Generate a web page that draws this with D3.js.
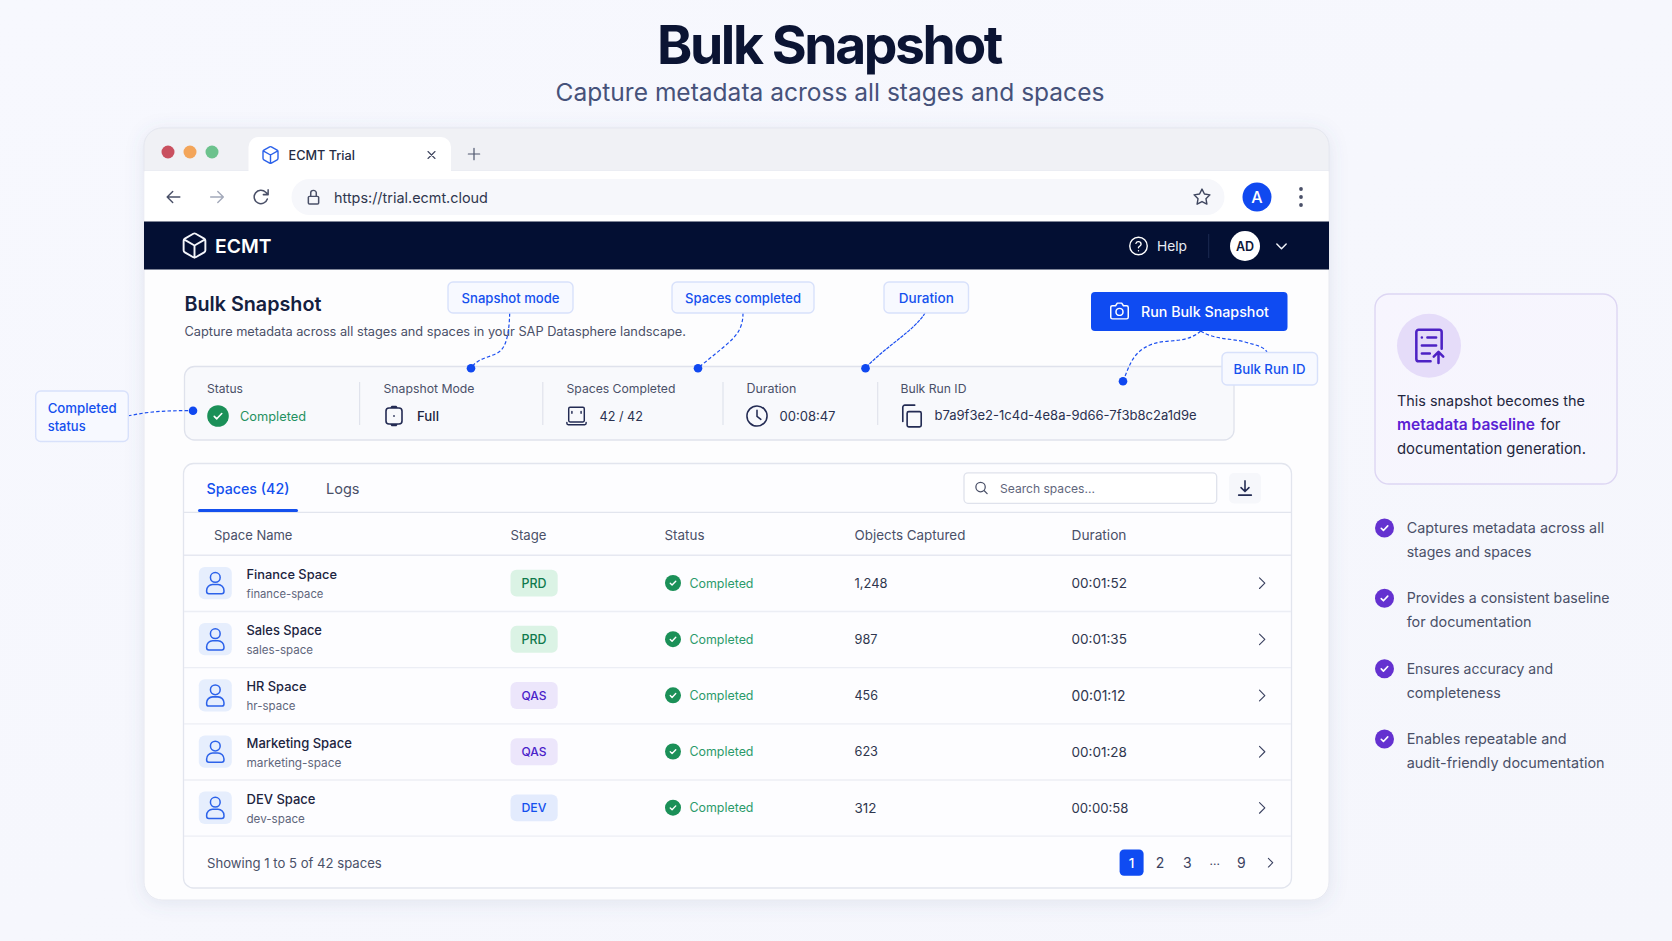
<!DOCTYPE html>
<html><head><meta charset="utf-8">
<script src="https://cdn.jsdelivr.net/npm/d3@7"></script>
<style>html,body{margin:0;padding:0;background:#f8f9fe;overflow:hidden}svg{display:block;font-family:Inter,"Noto Sans",sans-serif}</style>
</head><body><svg id="c" width="1672" height="941"></svg>
<script>
// ---- data ----
const rowNames = ["Finance Space","Sales Space","HR Space","Marketing Space","DEV Space"];
const rowSlugs = ["finance-space","sales-space","hr-space","marketing-space","dev-space"];
const rowStages = ["PRD","PRD","QAS","QAS","DEV"];
const rowObjects = ["1,248","987","456","623","312"];
const rowDurations = ["00:01:52","00:01:35","00:01:12","00:01:28","00:00:58"];
const rowStatus = ["Completed","Completed","Completed","Completed","Completed"];
const tableHeaders = ["Space Name","Stage","Status","Objects Captured","Duration"];
const statLabels = ["Status","Snapshot Mode","Spaces Completed","Duration","Bulk Run ID"];
const statValues = ["Completed","Full","42 / 42","00:08:47","b7a9f3e2-1c4d-4e8a-9d66-7f3b8c2a1d9e"];
const pageLabels = ["2","3","...","9"];
const bullets = [["Captures metadata across all","stages and spaces"],["Provides a consistent baseline","for documentation"],["Ensures accuracy and","completeness"],["Enables repeatable and","audit-friendly documentation"]];

const svg = d3.select("#c");
const defs = svg.append("defs");
const bg = defs.append("linearGradient").attr("id","bg").attr("x1",0).attr("y1",0).attr("x2",1).attr("y2",1);
bg.append("stop").attr("offset",0).attr("stop-color","#f7f8fe");
bg.append("stop").attr("offset",1).attr("stop-color","#f5f6fc");
const cg = defs.append("linearGradient").attr("id","card").attr("x1",0).attr("y1",0).attr("x2",1).attr("y2",1);
cg.append("stop").attr("offset",0).attr("stop-color","#f7f5fe");
cg.append("stop").attr("offset",1).attr("stop-color","#f6f6fd");
const sh = (id,dy,b,o,col)=>{const f=defs.append("filter").attr("id",id).attr("x","-10%").attr("y","-10%").attr("width","120%").attr("height","120%");
  f.append("feDropShadow").attr("dx",0).attr("dy",dy).attr("stdDeviation",b).attr("flood-color",col).attr("flood-opacity",o);};
sh("win",3,9,0.13,"#5a6796"); sh("soft",1,3,0.12,"#4f6ae0");

const T = (x,y,s,o={})=>{
  const n = (o.g||svg).append("text").attr("x",x).attr("y",y).attr("dy","0.36em").text(s)
    .attr("font-size",o.size||14).attr("font-weight",o.weight||400).attr("fill",o.fill||"#3f465f")
    .attr("text-anchor",o.anchor||"start");
  if(o.ls) n.attr("letter-spacing",o.ls);
  if(o.w){const l=n.node().getComputedTextLength(); n.attr("font-size",(o.size||14)*o.w/l);}
  return n;
};
const R = (x0,y0,x1,y1,o={})=> (o.g||svg).append("rect").attr("x",x0).attr("y",y0).attr("width",x1-x0).attr("height",y1-y0)
  .attr("rx",o.r||0).attr("fill",o.fill||"none").attr("stroke",o.stroke||"none").attr("stroke-width",o.sw||1).attr("filter",o.filter||null);
const L = (x0,y0,x1,y1,c,w=1)=> svg.append("line").attr("x1",x0).attr("y1",y0).attr("x2",x1).attr("y2",y1).attr("stroke",c).attr("stroke-width",w);
const circ = (cx,cy,r)=>`M${cx-r} ${cy}a${r} ${r} 0 1 0 ${2*r} 0a${r} ${r} 0 1 0 ${-2*r} 0z`;
const I = (cx,cy,size,d,c,sw=2,sy=1)=>{const k=size/24;
  svg.append("path").attr("d",d).attr("transform",`translate(${cx-12*k},${cy-12*k*sy}) scale(${k},${k*sy})`)
  .attr("fill","none").attr("stroke",c).attr("stroke-width",sw).attr("stroke-linecap","round").attr("stroke-linejoin","round");};
const ic = {
 box:"M21 16V8a2 2 0 0 0-1-1.73l-7-4a2 2 0 0 0-2 0l-7 4A2 2 0 0 0 3 8v8a2 2 0 0 0 1 1.73l7 4a2 2 0 0 0 2 0l7-4A2 2 0 0 0 21 16z M3.27 6.96 12 12.01l8.73-5.05 M12 22.08V12",
 left:"M20 12H4 M11 19l-7-7 7-7", right:"M4 12h16 M13 5l7 7-7 7",
 reload:"M21 3v6h-6 M20 14.5a8.5 8.5 0 1 1-2-8.5L21 9",
 lock:"M7 11h10a1.5 1.5 0 0 1 1.5 1.5v8a1.5 1.5 0 0 1-1.5 1.5H7a1.5 1.5 0 0 1-1.5-1.5v-8A1.5 1.5 0 0 1 7 11z M8.5 11V6a3.5 3.5 0 0 1 7 0v5",
 star:"M12 2l3.09 6.26L22 9.27l-5 4.87 1.18 6.88L12 17.77l-6.18 3.25L7 14.14 2 9.27l6.91-1.01L12 2z",
 help:circ(12,12,10)+" M9.09 9a3 3 0 0 1 5.83 1c0 2-3 2.5-3 4 M12 17.5h.01",
 cd:"M5 9l7 7 7-7", cr:"M9 4l8 8-8 8", x:"M5 5l14 14 M19 5L5 19", plus:"M12 4v16 M4 12h16",
 camera:"M22 19a2 2 0 0 1-2 2H4a2 2 0 0 1-2-2V8a2 2 0 0 1 2-2h3.5l2-3h5l2 3H20a2 2 0 0 1 2 2z "+circ(12,13,4),
 check:"M6 12.5l4 4 8-8.5",
 clock:circ(12,12,10.5)+" M12 6v6.5l4 3",
 copy:"M9 8h10a1.5 1.5 0 0 1 1.5 1.5v11a1.5 1.5 0 0 1-1.5 1.5H9a1.5 1.5 0 0 1-1.5-1.5v-11A1.5 1.5 0 0 1 9 8z M3.5 17V4a2 2 0 0 1 2-2h9",
 search:circ(10.5,10.5,7.5)+" M21 21l-5-5",
 download:"M12 3v13 M7 11.5l5 5 5-5 M4 21h16",
 user:circ(12,7,4.5)+" M6 22a2 2 0 0 1-2-2v-1a5.5 5.5 0 0 1 5.5-5.5h5A5.5 5.5 0 0 1 20 19v1a2 2 0 0 1-2 2z",
 mode:"M7 4h10a3 3 0 0 1 3 3v10a3 3 0 0 1-3 3H7a3 3 0 0 1-3-3V7a3 3 0 0 1 3-3z M9 4l1-1.5h4L15 4 M9 20l1 1.5h4l1-1.5 M12 11.7v.6",
 spaces:"M5 2.5h14a1.5 1.5 0 0 1 1.5 1.5v13a1.5 1.5 0 0 1-1.5 1.5H5A1.5 1.5 0 0 1 3.5 17V4A1.5 1.5 0 0 1 5 2.5z M1.5 19v1a1.5 1.5 0 0 0 1.5 1.5h18a1.5 1.5 0 0 0 1.5-1.5v-1 M7 7v2 M17 7v2",
 doc:"M5.5 2h13a1.5 1.5 0 0 1 1.5 1.5V14 M13 22H5.5A1.5 1.5 0 0 1 4 20.5v-17A1.5 1.5 0 0 1 5.5 2 M7.5 7h.01 M11 7h5.5 M7.5 12h9 M7.5 17h5 M18 23v-6.5 M15 19l3-3 3 3"
};

// background + titles
svg.append("rect").attr("width",1672).attr("height",941).attr("fill","url(#bg)");
T(829,44.5,"Bulk Snapshot",{anchor:"middle",size:52,weight:700,w:344,fill:"#0b1433",ls:"-0.045em"});
T(830,92.5,"Capture metadata across all stages and spaces",{anchor:"middle",size:25,weight:400,w:549,fill:"#46527a"});

// browser window
R(144,128,1329,900,{r:18,fill:"#fdfdfe",stroke:"#e6e8f0",filter:"url(#win)"});
svg.append("path").attr("d","M144 171V146a18 18 0 0 1 18-18H1311a18 18 0 0 1 18 18V171z").attr("fill","#f0f1f5").attr("stroke","#e6e8f0");
R(144.5,171,1328.5,222,{fill:"#fff"});
d3.zip(["#c9505f","#f3a55a","#6cc28d"],[168,190,212]).forEach(([c,x])=>svg.append("circle").attr("cx",x).attr("cy",152).attr("r",6.5).attr("fill",c));
svg.append("path").attr("d","M248.5 171V147a10 10 0 0 1 10-10H441a10 10 0 0 1 10 10V171z").attr("fill","#fff");
I(270.5,155,20,ic.box,"#2c62ea",1.7);
T(288.5,155,"ECMT Trial",{size:14,weight:500,w:66.5,fill:"#252c44"});
I(431.5,155,12,ic.x,"#3f465f",2.2); I(474,154,17,ic.plus,"#4f566e",1.7);
I(173.5,197,19,ic.left,"#4a5068",1.8); I(217,197,19,ic.right,"#a3a9ba",1.8); I(261,197,19,ic.reload,"#4a5068",1.9);
R(291.5,179,1224.5,215,{r:18,fill:"#f6f7fb"});
I(313.5,197,19,ic.lock,"#4a5068",1.9,0.88);
T(334,197.5,"https://trial.ecmt.cloud",{size:15,w:154,fill:"#2f364e"});
I(1202,197,19,ic.star,"#3f465f",1.8);
svg.append("circle").attr("cx",1257).attr("cy",197).attr("r",14.5).attr("fill","#1049f0");
T(1257,197,"A",{anchor:"middle",size:16,weight:500,fill:"#fff"});
[189,197,205].forEach(y=>svg.append("circle").attr("cx",1301).attr("cy",y).attr("r",1.9).attr("fill","#4a5068"));

// nav
R(144,221.5,1329,269.5,{fill:"#030f33"});
I(194.5,245.5,29,ic.box,"#f4f6fb",1.6);
T(215,246.5,"ECMT",{size:20,weight:600,w:56.5,fill:"#fff"});
I(1138.5,246,21,ic.help,"#fff",1.6);
T(1157,246.5,"Help",{size:14,weight:400,w:30,fill:"#e8ebf3"});
L(1208.7,234,1208.7,258,"#1c2a52");
svg.append("circle").attr("cx",1245).attr("cy",246).attr("r",15).attr("fill","#fff");
T(1245,246,"AD",{anchor:"middle",size:12.5,weight:600,fill:"#0b1638"});
I(1281.5,246,16,ic.cd,"#f0f2f8",2.2);

// heading
T(184.5,304,"Bulk Snapshot",{size:20,weight:600,w:137,fill:"#14203f"});
T(184.5,331.5,"Capture metadata across all stages and spaces in your SAP Datasphere landscape.",{size:14,w:502,fill:"#4a5068"});

// run button
R(1091,292,1287.5,331,{r:4,fill:"#0f4bf2"});
I(1119.5,311,21,ic.camera,"#fff",1.7);
T(1141,311.7,"Run Bulk Snapshot",{size:15,weight:500,w:128,fill:"#fff"});

// stats panel
R(184.5,366.5,1234,440,{r:10,fill:"#f8f9fc",stroke:"#dfe2ec",sw:1.3});
const statX = d3.scaleOrdinal().domain(statLabels).range([207,383.5,566.5,746.5,900.5]);
statLabels.forEach(s=>T(statX(s),388.5,s,{size:13,fill:"#4a5068",w:{"Status":36,"Snapshot Mode":91,"Spaces Completed":109,"Duration":50,"Bulk Run ID":66}[s]}));
[359.6,542.8,723,877.7].forEach(x=>L(x,382,x,425,"#e0e3ec",1.2));
svg.append("circle").attr("cx",218).attr("cy",416).attr("r",10.8).attr("fill","#1b9058");
I(218,416,15,ic.check,"#fff",2.6);
T(240,416,statValues[0],{size:14,w:66,fill:"#1f9160"});
I(394,416,24,ic.mode,"#232b53",1.6);
T(417,416,statValues[1],{size:14,weight:500,w:22,fill:"#1c2440"});
I(576.5,416,22,ic.spaces,"#232b53",1.6);
T(599.5,416,statValues[2],{size:14,w:43.5,fill:"#2a3150"});
I(757,416,23,ic.clock,"#232b53",1.6);
T(779.5,416,statValues[3],{size:14,w:56,fill:"#2a3150"});
I(912,416,26,ic.copy,"#232b53",1.5);
T(934.5,415.5,statValues[4],{size:14,w:262.5,fill:"#2a3150"});

// table panel
R(183.5,463.5,1291.5,888,{r:10,fill:"#fdfdff",stroke:"#e2e5ee",sw:1.3});
T(206.5,489,"Spaces (42)",{size:15,weight:500,w:83,fill:"#1450ee"});
T(326,489,"Logs",{size:15,w:33.5,fill:"#4a5068"});
L(184,512.3,1291,512.3,"#e2e5ee",1.2);
R(198,509,298,512,{r:1.5,fill:"#1450ee"});
R(964,472.8,1216.7,503.3,{r:4,fill:"#fff",stroke:"#dfe2ec",sw:1.3});
I(981.5,488,15,ic.search,"#4a5068",2);
T(1000,488.6,"Search spaces...",{size:13,w:95,fill:"#5f667c"});
R(1229,473,1261,503.5,{r:5,fill:"#f6f7fb"});
I(1245,488,19,ic.download,"#232b53",2);

const colX = d3.scaleOrdinal().domain(tableHeaders).range([214,510.5,664.5,854.5,1071.5]);
const headW = {"Space Name":78.5,"Stage":36,"Status":40,"Objects Captured":111,"Duration":55};
tableHeaders.forEach(h=>T(colX(h),535.3,h,{size:13,w:headW[h],fill:"#4a5068"}));
L(184,555.3,1291,555.3,"#e6e8f1",1.4);

const rowY = d3.scaleBand().domain(rowNames).range([555.3,836.2]);
const stageStyle = {PRD:["#dbf3e5","#0f7a4d"],QAS:["#ece6fb","#4a22c9"],DEV:["#e3ebfd","#1450ee"]};
const nameW = {"Finance Space":90.5,"Sales Space":75.5,"HR Space":60,"Marketing Space":105.5,"DEV Space":69};
const slugW = {"finance-space":77,"sales-space":66.5,"hr-space":49,"marketing-space":95,"dev-space":58.5};
const objW = {"1,248":33,"987":23,"456":23.5,"623":23.5,"312":22};
rowNames.forEach((n,i)=>{
  const y0=rowY(n), cy=y0+rowY.bandwidth()/2;
  L(184,y0+rowY.bandwidth(),1291,y0+rowY.bandwidth(),"#eceef5",1.3);
  R(198.8,cy-16.5,231.8,cy+15.8,{r:6,fill:"#e6eefd"});
  I(215.3,cy-0.5,26,ic.user,"#2c62ea",1.4);
  T(246.5,cy-9,n,{size:13.5,weight:500,w:nameW[n],fill:"#1c2440"});
  T(246.5,cy+10.4,rowSlugs[i],{size:12.5,w:slugW[rowSlugs[i]],fill:"#5f667c"});
  const st=stageStyle[rowStages[i]];
  R(510.5,cy-13.7,557.7,cy+13.2,{r:6,fill:st[0]});
  T(534,cy-0.3,rowStages[i],{anchor:"middle",size:13,weight:500,w:25,fill:st[1]});
  svg.append("circle").attr("cx",673).attr("cy",cy-0.4).attr("r",8).attr("fill","#1b9058");
  I(673,cy-0.4,11,ic.check,"#fff",3);
  T(689.5,cy-0.2,rowStatus[i],{size:13,w:64,fill:"#2a9a6a"});
  T(854.5,cy-0.2,rowObjects[i],{size:13.5,w:objW[rowObjects[i]],fill:"#2f364e"});
  T(1071.5,cy-0.2,rowDurations[i],{size:14,w:i==4?57:i==2?54:55.5,fill:"#2f364e"});
  I(1261.5,cy-0.2,16,ic.cr,"#3a4160",1.7);
});

// footer
T(207,863,"Showing 1 to 5 of 42 spaces",{size:14,w:175,fill:"#4a5068"});
R(1119.6,849.5,1143.6,875.7,{r:4.5,fill:"#0f4bf2"});
T(1131.6,862.7,"1",{anchor:"middle",size:13.5,weight:500,fill:"#fff"});
const pageX = d3.scalePoint().domain(["2","3"]).range([1160,1187.4]);
T(pageX("2"),862.7,pageLabels[0],{anchor:"middle",size:14,fill:"#3a4160"});
T(pageX("3"),862.7,pageLabels[1],{anchor:"middle",size:14,fill:"#3a4160"});
T(1214.7,860.5,"...",{anchor:"middle",size:12,fill:"#3a4160"});
T(1241.3,862.7,pageLabels[3],{anchor:"middle",size:14,fill:"#3a4160"});
I(1270,862.7,13,ic.cr,"#3a4160",2);

// connectors
const BLUE="#1c4ff0";
const conn=(d,dash="3.5 2.2")=>svg.append("path").attr("d",d).attr("fill","none").attr("stroke",BLUE).attr("stroke-width",1.2).attr("stroke-dasharray",dash);
conn("M509.7 313C509 338 505 349 497.3 353C488 358 478 358 471 368");
conn("M743 313C743 330 735 337 725 346L698 368");
conn("M925 313C915 330 885 347 865.5 368","3.5 1");
conn("M1200.7 331C1185 345 1165 338 1150 345C1132 353 1130 365 1123 381");
conn("M1200.7 331C1215 340 1230 338 1245 342C1255 345 1263 346 1267 352");
conn("M128 416C150 411 170 410.5 193 410.7");
[[471,368.3],[698,368.3],[865.5,368.3],[1123,381.3],[193,410.7]].forEach(([x,y])=>svg.append("circle").attr("cx",x).attr("cy",y).attr("r",4.3).attr("fill","#1048f0"));

// callouts
const co=(x0,y0,x1,y1)=>R(x0,y0,x1,y1,{r:5,fill:"#f7f9ff",stroke:"#d8e1fb",sw:1.4});
co(448,282,573,313); T(510.5,298,"Snapshot mode",{anchor:"middle",size:13.5,weight:500,w:98,fill:"#1450ee"});
co(672,282,814,313); T(743,298,"Spaces completed",{anchor:"middle",size:13.5,weight:500,w:116,fill:"#1450ee"});
co(884,282,968.5,313); T(926.3,298,"Duration",{anchor:"middle",size:13.5,weight:500,w:55,fill:"#1450ee"});
co(1222,352.5,1317.5,385); T(1269.5,369,"Bulk Run ID",{anchor:"middle",size:13.5,weight:500,w:72,fill:"#1450ee"});
co(35.7,391,128.3,441.5); T(47.7,408,"Completed",{size:14,weight:500,w:69,fill:"#1450ee"}); T(47.7,426,"status",{size:14,weight:500,w:38,fill:"#1450ee"});

// right card
R(1375,294,1617,484,{r:14,fill:"url(#card)",stroke:"#ddd6f3",sw:1.4});
svg.append("circle").attr("cx",1429).attr("cy",345.7).attr("r",32).attr("fill","#e5dcf9");
I(1429,345.5,38,ic.doc,"#4d22c4",1.6);
T(1397,401,"This snapshot becomes the",{size:15,w:188,fill:"#1f2740"});
T(1397,424.7,"metadata baseline",{size:15,weight:600,w:138,fill:"#5a22d4"});
T(1540.5,424.7,"for",{size:15,w:20,fill:"#1f2740"});
T(1397,448.7,"documentation generation.",{size:15,w:189,fill:"#1f2740"});

const bulletY = d3.scalePoint().domain(d3.range(bullets.length)).range([528,739]);
const lineW = [[197.6,125],[203,125],[146.5,94],[160,198]];
bullets.forEach((b,i)=>{
  const y=bulletY(i);
  svg.append("circle").attr("cx",1384.5).attr("cy",y).attr("r",9.5).attr("fill","#6431d0");
  I(1384.5,y,13,ic.check,"#fff",3);
  b.forEach((l,j)=>T(1406.7,y+j*23.8,l,{size:15,w:lineW[i][j],fill:"#4a5068"}));
});
</script></body></html>
